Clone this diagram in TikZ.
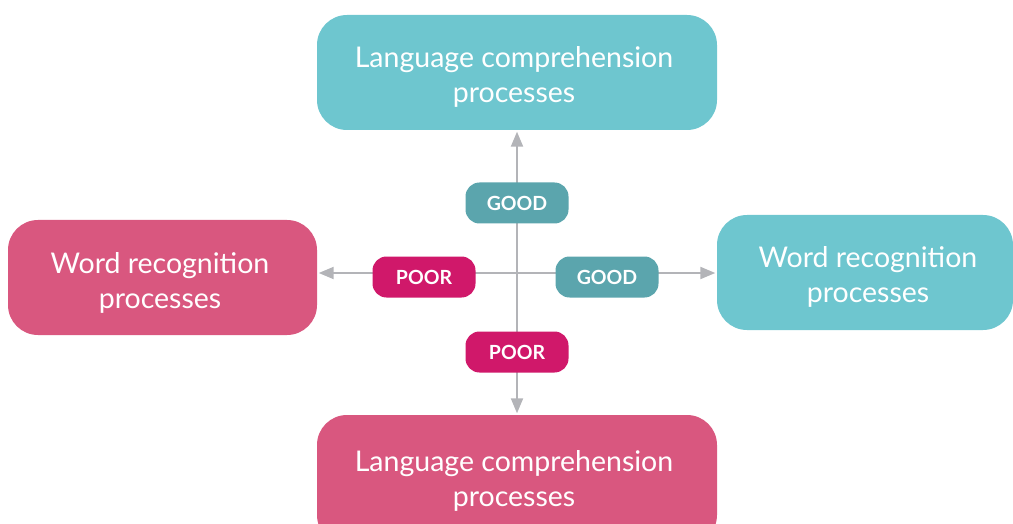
\documentclass[tikz,border=0pt]{standalone}
\usepackage{fontspec}
\newfontfamily\boxfont{Lato}
\newfontfamily\labfont{Lato}
\usetikzlibrary{arrows.meta}
\definecolor{tealbox}{HTML}{6EC6CF}
\definecolor{teallab}{HTML}{5BA5AD}
\definecolor{pinkbox}{HTML}{D9577F}
\definecolor{pinklab}{HTML}{D0186A}
\definecolor{linegrey}{HTML}{B3B4B8}
\tikzset{
  bigbox/.style={rounded corners=30pt, inner sep=0pt},
  tealb/.style={bigbox, fill=tealbox},
  pinkb/.style={bigbox, fill=pinkbox},
  boxtext/.style={text=white, align=center, inner sep=0pt,
    font=\boxfont\fontsize{28.5}{35}\selectfont},
  labbox/.style={rounded corners=14pt, text=white, inner sep=0pt,
    minimum width=103pt, minimum height=41pt, font=\labfont\bfseries\fontsize{19.5}{21}\selectfont},
  goodlab/.style={labbox, fill=teallab},
  poorlab/.style={labbox, fill=pinklab},
  conn/.style={draw=linegrey, line width=2pt, -{Triangle[length=15pt,width=12pt]}, color=linegrey, shorten >=1.5pt}
}
\begin{document}
\begin{tikzpicture}[x=1pt,y=-1pt]
\useasboundingbox (0,0) rectangle (1013,524);
\begin{scope}
\clip (0,0) rectangle (1013,524);
\node[tealb, minimum width=400pt, minimum height=115pt] (top) at (517,72.5) {};
\node[pinkb, minimum width=309pt, minimum height=115pt] (left) at (162.5,277.5) {};
\node[tealb, minimum width=296pt, minimum height=115pt] (right) at (865,272.5) {};
\node[pinkb, minimum width=400pt, minimum height=130pt] (bot) at (517,480) {};
\node[boxtext] (toptext) at (514,77) {Language comprehension\\processes};
\node[boxtext] (lefttext) at (160,283) {Word recognition\\processes};
\node[boxtext] (righttext) at (868,277) {Word recognition\\processes};
\node[boxtext] (bottext) at (514,481) {Language comprehension\\processes};
\end{scope}
\coordinate (c) at (517,273);
\draw[conn] (c) -- (top.south);
\draw[conn] (c) -- (bot.north);
\draw[conn] (c) -- (left.east |- c);
\draw[conn] (c) -- (right.west |- c);
\node[goodlab] (g1) at (517,203) {GOOD};
\node[poorlab] (p1) at (424,277) {POOR};
\node[goodlab] (g2) at (607,277) {GOOD};
\node[poorlab] (p2) at (517,352) {POOR};
\end{tikzpicture}
\end{document}
